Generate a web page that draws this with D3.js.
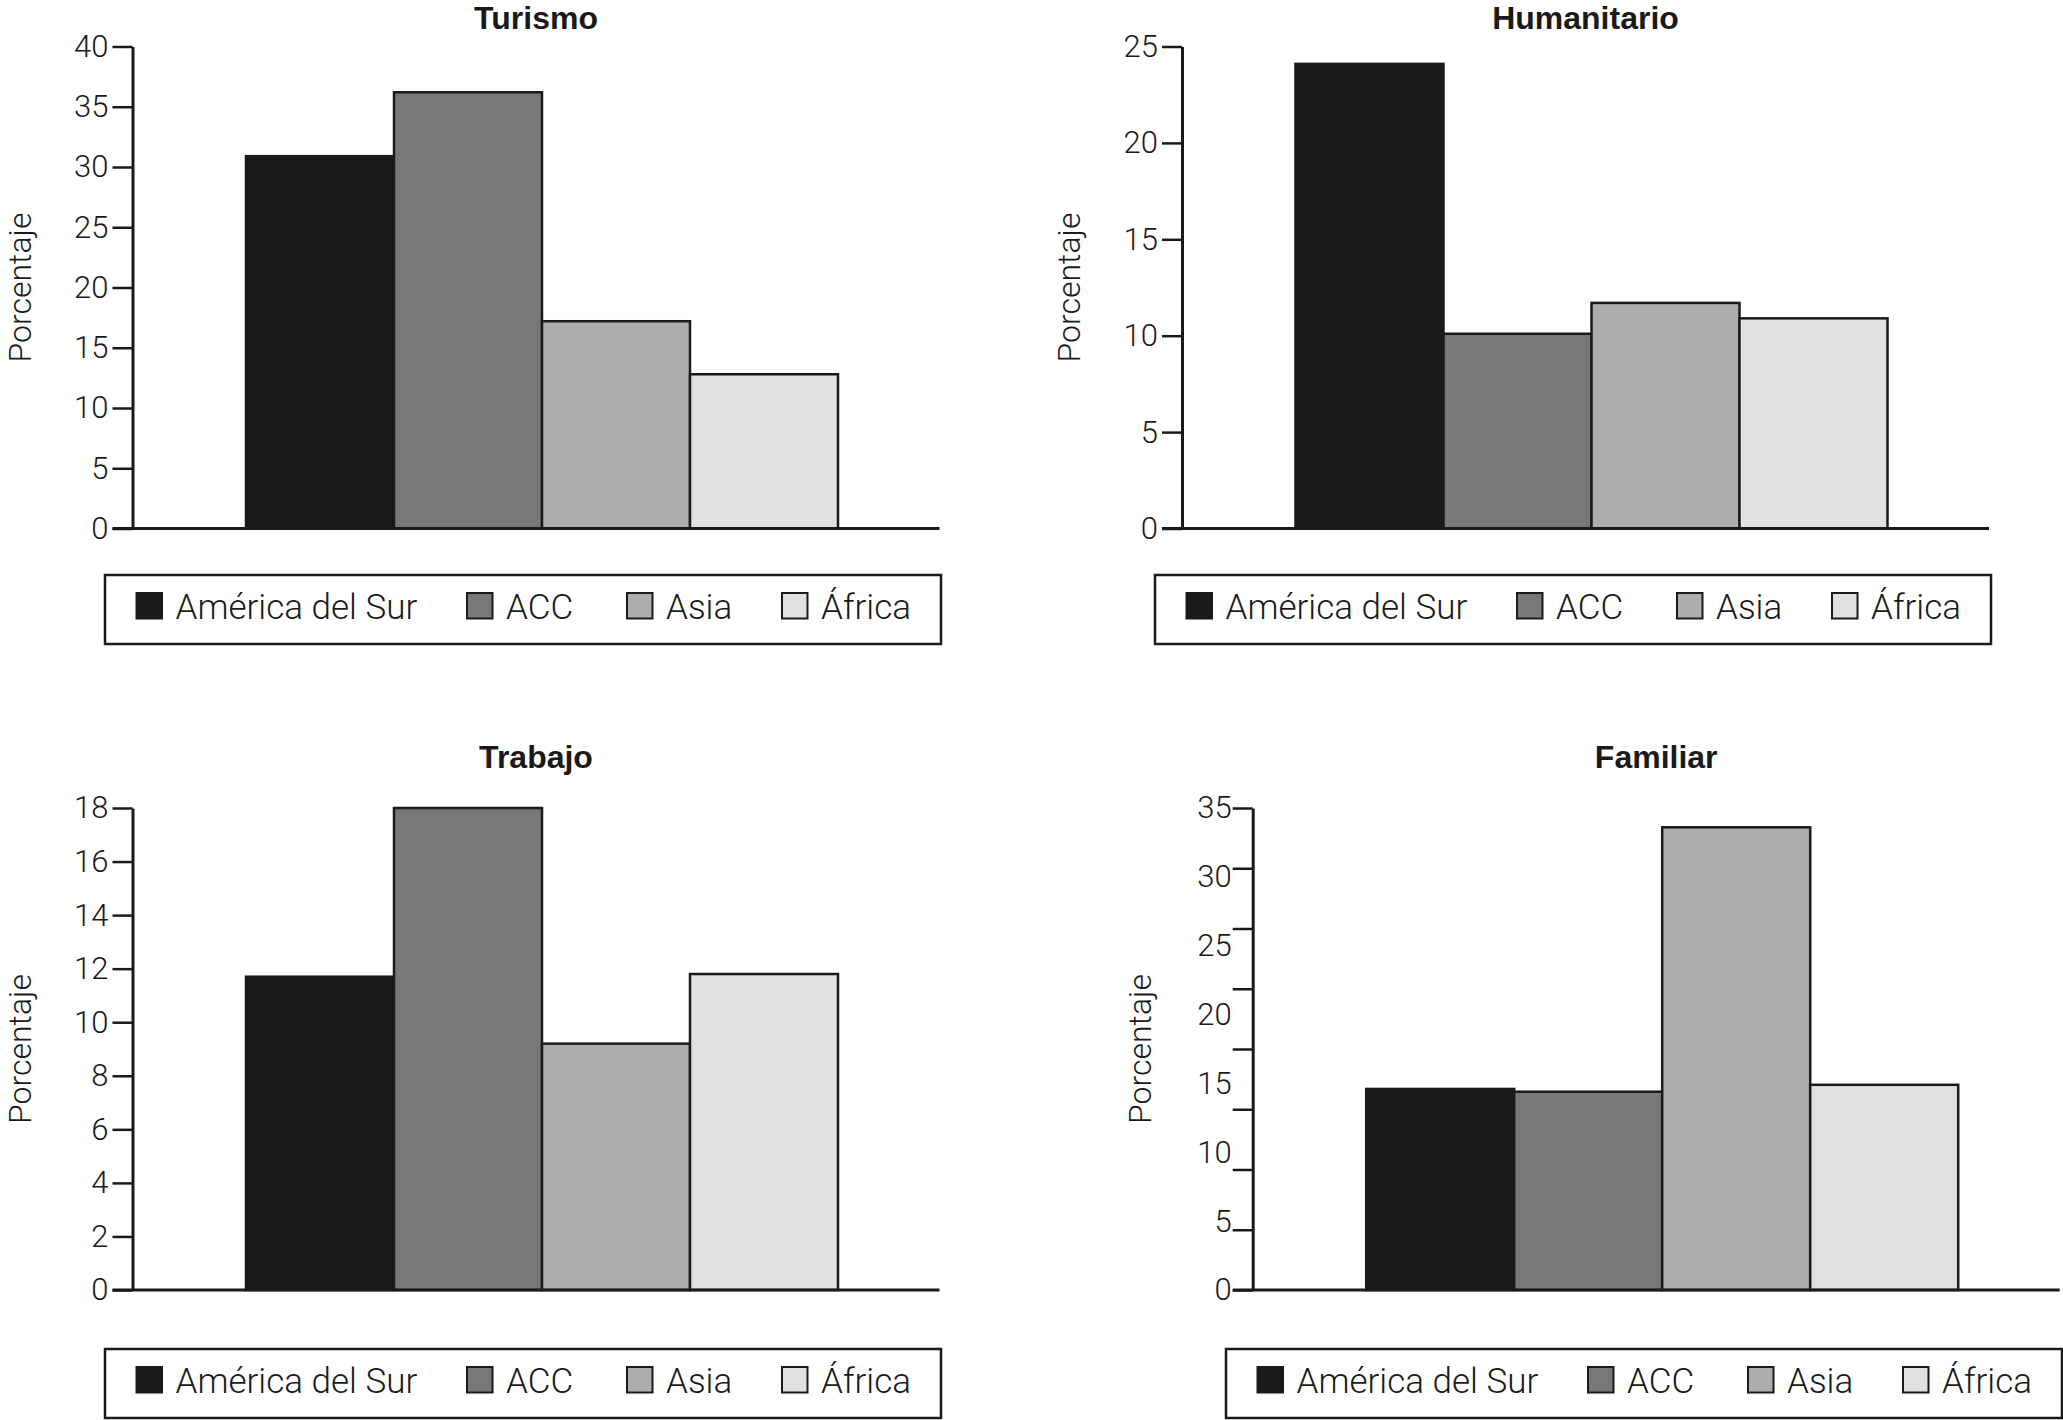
<!DOCTYPE html>
<html>
<head>
<meta charset="utf-8">
<script src="https://cdn.jsdelivr.net/npm/d3@7"></script>
<style>
  html, body { margin: 0; padding: 0; background: #ffffff; }
  svg { display: block; }
  .light { font-family: "Roboto", "Liberation Sans", sans-serif; font-weight: 300; fill: #1a1a1a; }
  .title { font-family: "Liberation Sans", Arial, sans-serif; font-weight: bold; fill: #1a1a1a; }
</style>
</head>
<body>
<svg id="chart" width="2063" height="1420"></svg>
<script>
// ---------------- data ----------------
const regions = ["América del Sur", "ACC", "Asia", "África"];
const titles = ["Turismo", "Humanitario", "Trabajo", "Familiar"];
const yLabel = "Porcentaje";

const turismo     = [30.9, 36.2, 17.2, 12.8];
const humanitario = [24.1, 10.1, 11.7, 10.9];
const trabajo     = [11.7, 18.0, 9.2, 11.8];
const familiar    = [14.6, 14.4, 33.6, 14.9];

const turismoTicks     = [0, 5, 10, 15, 20, 25, 30, 35, 40];
const humanitarioTicks = [0, 5, 10, 15, 20, 25];
const trabajoTicks     = [0, 2, 4, 6, 8, 10, 12, 14, 16, 18];
const familiarTicks    = [0, 5, 10, 15, 20, 25, 30, 35];

// ---------------- styles ----------------
const fills = ["#191919", "#787878", "#adadad", "#e0e0e0"];
const ink = "#1a1a1a";

// ---------------- layout ----------------
const plotW = 807, barStart = 113.5, barW = 148;
const panels = [
  { title: titles[0], values: turismo,     ticks: turismoTicks,     ax: 132.5,  top: 46.5, bot: 528.5, titleY: 29,  legX: 105,  legY: 575 },
  { title: titles[1], values: humanitario, ticks: humanitarioTicks, ax: 1182,   top: 46.5, bot: 528.5, titleY: 29,  legX: 1155, legY: 575 },
  { title: titles[2], values: trabajo,     ticks: trabajoTicks,     ax: 132.5,  top: 808,  bot: 1290,  titleY: 768, legX: 105,  legY: 1349 },
  { title: titles[3], values: familiar,    ticks: familiarTicks,    ax: 1252.7, top: 808,  bot: 1290,  titleY: 768, legX: 1226, legY: 1349, offsetMarks: 8 }
];
const legendW = 836, legendH = 69, sw = 25.5;
const swatchOffsets = [31.5, 362, 522, 677];

const svg = d3.select("#chart");
svg.append("rect").attr("width", 2063).attr("height", 1420).attr("fill", "#fff");

panels.forEach(p => {
  const g = svg.append("g");
  const yMax = p.ticks[p.ticks.length - 1];
  const y = d3.scaleLinear().domain([0, yMax]).range([p.bot, p.top]);
  const x = d3.scaleBand().domain(regions)
    .range([p.ax + barStart, p.ax + barStart + barW * regions.length])
    .paddingInner(0).paddingOuter(0);

  // bars
  g.selectAll("rect.bar").data(p.values).join("rect")
    .attr("class", "bar")
    .attr("x", (d, i) => x(regions[i]))
    .attr("width", x.bandwidth())
    .attr("y", d => y(d))
    .attr("height", d => y(0) - y(d))
    .attr("fill", (d, i) => fills[i])
    .attr("stroke", ink)
    .attr("stroke-width", 2.5);

  // x baseline
  g.append("line")
    .attr("x1", p.ax - 20).attr("x2", p.ax + plotW)
    .attr("y1", y(0)).attr("y2", y(0))
    .attr("stroke", ink).attr("stroke-width", 3);

  // y axis
  if (p.offsetMarks) {
    const marks = d3.range(p.offsetMarks + 1).map(i => yMax * i / p.offsetMarks);
    const am = g.append("g").attr("transform", `translate(${p.ax},0)`)
      .call(d3.axisLeft(y).tickValues(marks).tickFormat("").tickSize(20).tickSizeOuter(0));
    am.select(".domain").attr("stroke", ink).attr("stroke-width", 3);
    am.selectAll(".tick line").attr("stroke", ink).attr("stroke-width", 2.5);
    const al = g.append("g").attr("transform", `translate(${p.ax},0)`)
      .call(d3.axisLeft(y).tickValues(p.ticks).tickSize(0).tickPadding(21));
    al.select(".domain").remove();
    al.selectAll(".tick text").attr("class", "light").attr("font-size", 31).attr("fill", ink);
  } else {
    const a = g.append("g").attr("transform", `translate(${p.ax},0)`)
      .call(d3.axisLeft(y).tickValues(p.ticks).tickSize(20).tickSizeOuter(0).tickPadding(4));
    a.select(".domain").attr("stroke", ink).attr("stroke-width", 3);
    a.selectAll(".tick line").attr("stroke", ink).attr("stroke-width", 2.5);
    a.selectAll(".tick text").attr("class", "light").attr("font-size", 31).attr("fill", ink);
  }

  // y label
  g.append("text").attr("class", "light")
    .attr("transform", `translate(${p.ax - 102},${(p.top + p.bot) / 2}) rotate(-90)`)
    .attr("text-anchor", "middle")
    .attr("font-size", 32)
    .text(yLabel);

  // title
  g.append("text").attr("class", "title")
    .attr("x", p.ax + plotW / 2).attr("y", p.titleY)
    .attr("text-anchor", "middle")
    .attr("font-size", 32)
    .text(p.title);

  // legend
  const lg = g.append("g").attr("transform", `translate(${p.legX},${p.legY})`);
  lg.append("rect").attr("width", legendW).attr("height", legendH)
    .attr("fill", "#fff").attr("stroke", ink).attr("stroke-width", 2.5);
  const items = lg.selectAll("g.item").data(regions).join("g")
    .attr("class", "item")
    .attr("transform", (d, i) => `translate(${swatchOffsets[i]},0)`);
  items.append("rect")
    .attr("y", 18).attr("width", sw).attr("height", sw)
    .attr("fill", (d, i) => fills[i]).attr("stroke", ink).attr("stroke-width", 2);
  items.append("text").attr("class", "light")
    .attr("x", 39).attr("y", 43.5)
    .attr("font-size", 35)
    .text(d => d);
});
</script>
</body>
</html>
